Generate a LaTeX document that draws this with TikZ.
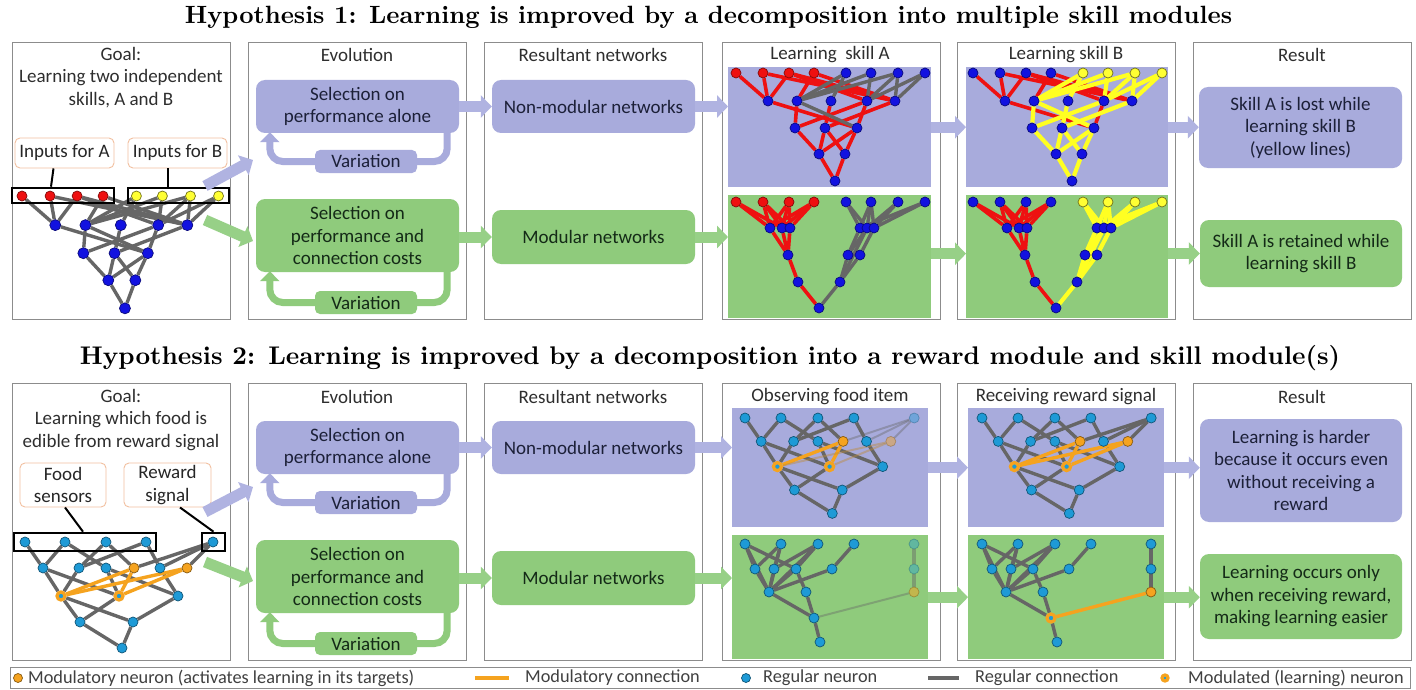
\documentclass[tikz,border=0pt]{standalone}
\usepackage{fontspec}
\setsansfont{Carlito}
\usepackage{graphicx}
\usetikzlibrary{arrows.meta,calc}
\pgfdeclarelayer{back}
\pgfdeclarelayer{edgel}
\pgfsetlayers{back,edgel,main}
\definecolor{purp}{HTML}{A8ABDC}
\definecolor{grn}{HTML}{8FCB7C}
\definecolor{purpA}{HTML}{B0B3E1}
\definecolor{grnA}{HTML}{97D087}
\definecolor{ptxt}{HTML}{1C2038}
\definecolor{gtxt}{HTML}{142A17}
\definecolor{ttxt}{HTML}{2E2E2E}
\definecolor{edgeg}{HTML}{666666}
\definecolor{nred}{HTML}{EE1010}
\definecolor{nblue}{HTML}{1212E0}
\definecolor{nyel}{HTML}{FFFF33}
\definecolor{ncyan}{HTML}{1E9AD6}
\definecolor{norg}{HTML}{F5A31F}
\definecolor{eyel}{HTML}{FFFF22}
\definecolor{ered}{HTML}{EE1111}
\definecolor{panelb}{HTML}{8C8C8C}
\definecolor{tanb}{HTML}{F2C0A0}
\newcommand\setfs[2]{\fontsize{#1}{#2}\selectfont}
% ---------- Hypothesis 1, non-modular network
\newcommand\NetOne[1]{%
\foreach \i/\x in {1/0,2/27,3/53,4/78}{\node[nA] (#1a\i) at (\x,0) {};}
\foreach \i/\x in {5/110,6/135,7/162,8/189}{\node[nB] (#1a\i) at (\x,0) {};}
\foreach \i/\x in {1/32,2/61,3/95,4/131,5/159}{\node[nH] (#1h\i) at (\x,28) {};}
\foreach \i/\x in {1/59,2/89,3/121}{\node[nH] (#1g\i) at (\x,55) {};}
\foreach \i/\x in {1/83,2/109}{\node[nH] (#1f\i) at (\x,81) {};}
\node[nH] (#1o) at (99,108) {};
\begin{pgfonlayer}{edgel}
\foreach \u/\v in {a1/h1,a2/h1,a2/h5,a3/h1,a3/h4,a3/h5,a4/h2,a4/h5,h1/g3,h4/g3}{\draw[eT] (#1\u) -- (#1\v);}
\foreach \u/\v in {h2/g1,h3/g2,h4/g1,h5/g2,g1/f1,g2/f1,g2/f2,g3/f1,g3/f2,f1/o,f2/o}{\draw[eY] (#1\u) -- (#1\v);}
\foreach \u/\v in {a5/h2,a6/h2,a6/h4,a7/h4,a7/h5,a8/h5,a5/h3,a7/h2,a8/h4,h2/g3}{\draw[eG] (#1\u) -- (#1\v);}
\end{pgfonlayer}}
% ---------- Hypothesis 1, modular network
\newcommand\NetMod[1]{%
\foreach \i/\x in {1/0,2/27,3/53,4/78}{\node[nA] (#1a\i) at (\x,0) {};}
\foreach \i/\x in {5/110,6/135,7/162,8/189}{\node[nB] (#1a\i) at (\x,0) {};}
\foreach \i/\x in {1/34,2/46,3/54}{\node[nH] (#1m\i) at (\x,26) {};}
\foreach \i/\x in {1/124,2/131,3/138}{\node[nH] (#1n\i) at (\x,26) {};}
\node[nH] (#1l3) at (52,53) {};
\node[nH] (#1l4) at (62,80) {};
\node[nH] (#1r3a) at (112,53) {};
\node[nH] (#1r3b) at (124,53) {};
\node[nH] (#1r4) at (104,80) {};
\node[nH] (#1o) at (83,106) {};
\begin{pgfonlayer}{edgel}
\foreach \u/\v in {a1/m1,a1/m2,a2/m1,a2/m2,a2/m3,a3/m1,a3/m2,a3/m3,a4/m1,a4/m2,a4/m3,m1/l3,m2/l3,m3/l3,l3/l4,l4/o}{\draw[eT] (#1\u) -- (#1\v);}
\foreach \u/\v in {a5/n1,a5/n2,a6/n1,a6/n2,a6/n3,a7/n2,a7/n3,a8/n1,a8/n3,n1/r3a,n2/r3a,n3/r3b,n2/r4,r3a/r4,r3b/r4,r4/o}{\draw[eG] (#1\u) -- (#1\v);}
\end{pgfonlayer}}
% ---------- Hypothesis 2, non-modular network
\newcommand\NetTwo[1]{%
\foreach \i/\x in {1/0,2/40,3/81,4/121}{\node[nS] (#1s\i) at (\x,0) {};}
\node[nRw] (#1s5) at (188,0) {};
\foreach \i/\x in {1/18,2/54,3/81,5/135}{\node[nS] (#1h\i) at (\x,26) {};}
\node[nOr] (#1h4) at (109,26) {};
\node[nO2] (#1h6) at (162,26) {};
\node[nMod] (#1m1) at (36,54) {};
\node[nMod] (#1m2) at (94,54) {};
\node[nS] (#1m3) at (153,54) {};
\node[nS] (#1f1) at (55,80) {};
\node[nS] (#1f2) at (108,80) {};
\node[nS] (#1o) at (97,106) {};
\begin{pgfonlayer}{edgel}
\foreach \u/\v in {s1/h1,s2/h1,s2/h3,s3/h2,s3/h4,s4/h2,s4/h5,h1/m1,h1/m2,h2/m1,h3/m2,h3/m3,h5/m3,m1/f1,m1/f2,m2/f1,m3/f2,f1/o,f2/o}{\draw[eN] (#1\u) -- (#1\v);}
\foreach \u/\v in {s5/h4,s5/h6,s5/h5}{\draw[eRw] (#1\u) -- (#1\v);}
\foreach \u/\v in {h4/m1,h4/m2}{\draw[eO1] (#1\u) -- (#1\v);}
\foreach \u/\v in {h6/m1,h6/m2}{\draw[eO2] (#1\u) -- (#1\v);}
\end{pgfonlayer}}
% ---------- Hypothesis 2, modular network
\newcommand\NetTwoMod[1]{%
\foreach \i/\x in {1/0,2/36,3/73,4/109}{\node[nS] (#1s\i) at (\x,0) {};}
\node[nRw] (#1s5) at (169,0) {};
\foreach \i/\x in {1/10,2/29,3/51,4/87}{\node[nS] (#1h\i) at (\x,25) {};}
\node[nRw] (#1r2) at (169,25) {};
\node[nS] (#1m1) at (24,48) {};
\node[nS] (#1m2) at (61,48) {};
\node[nO2] (#1r3) at (169,48) {};
\node[nP] (#1p) at (69,74) {};
\node[nS] (#1o) at (75,98) {};
\begin{pgfonlayer}{edgel}
\foreach \u/\v in {s1/h1,s1/h3,s1/m1,s2/h1,s2/h2,s2/m1,s3/h2,s3/h3,s3/m1,s4/h4,h1/m1,h2/m1,h3/m1,h3/m2,h4/m1,m1/p,m2/p,p/o}{\draw[eN] (#1\u) -- (#1\v);}
\foreach \u/\v in {s5/r2,r2/r3}{\draw[eRw] (#1\u) -- (#1\v);}
\draw[eRP] (#1r3) -- (#1p);
\end{pgfonlayer}}
\begin{document}
\begin{tikzpicture}[x=1pt,y=-1pt,
  font=\sffamily\setfs{19}{22.5},
  panel/.style={draw=panelb, line width=1.3pt, fill=white, minimum width=218pt, minimum height=277pt, inner sep=0pt, anchor=north west},
  pfill/.style={fill=purp, inner sep=0pt, anchor=north west},
  gfill/.style={fill=grn, inner sep=0pt, anchor=north west},
  ptitle/.style={text=ttxt, align=center, font=\sffamily\setfs{19}{22.5}},
  pbox/.style={rounded corners=9pt, fill=purp, text=ptxt, align=center, inner sep=0pt, minimum width=203pt},
  gbox/.style={rounded corners=9pt, fill=grn, text=gtxt, align=center, inner sep=0pt, minimum width=203pt},
  vbox/.style={rounded corners=5pt, minimum width=102pt, minimum height=23pt},
  lbl/.style={draw=tanb, line width=0.9pt, rounded corners=5pt, fill=white, text=black!85, align=center, inner sep=0pt},
  inrect/.style={draw=black, line width=2.6pt, inner sep=0pt},
  conn/.style={draw=black, line width=2pt},
  harrP/.style={line width=11pt, draw=purpA, -{Triangle[width=22pt,length=11pt]}},
  harrG/.style={line width=11pt, draw=grnA, -{Triangle[width=22pt,length=11pt]}},
  loopP/.style={line width=7pt, draw=purp, rounded corners=13pt},
  loopG/.style={line width=7pt, draw=grn, rounded corners=13pt},
  loopTip/.style={-{Triangle[width=19pt,length=10pt]}},
  nd/.style={circle, inner sep=0pt, minimum size=10pt, line width=0.7pt},
  nR/.style={nd, fill=nred, draw=nred!55!black},
  nBl/.style={nd, fill=nblue, draw=nblue!55!black},
  nY/.style={nd, fill=nyel, draw=nyel!45!black},
  nC/.style={nd, fill=ncyan, draw=ncyan!55!black},
  nO/.style={nd, fill=norg, draw=norg!55!black},
  nMod/.style={circle, inner sep=0pt, minimum size=8pt, fill=ncyan, draw=norg, line width=3.2pt},
  eGray/.style={draw=edgeg, line width=3.4pt},
  eRed/.style={draw=ered, line width=3.6pt},
  eYel/.style={draw=eyel, line width=4.2pt},
  eOrg/.style={draw=norg, line width=3.4pt},
  eFade/.style={draw=edgeg, line width=2pt, opacity=0.4},
  eFadeO/.style={draw=norg!60!edgeg, line width=2pt, opacity=0.45},
  legt/.style={anchor=west, inner sep=0pt, text=black!75, font=\sffamily\setfs{18.3}{20}}
]
\useasboundingbox (0,0) rectangle (1416,690);
% ================= background layer: panels and coloured areas
\begin{pgfonlayer}{back}
\fill[white] (0,0) rectangle (1416,690);
\foreach \n/\x in {1/12,2/248,3/484,4/722,5/957,6/1193}{
  \node[panel] (T\n) at (\x,42) {};
  \node[panel] (B\n) at (\x,383) {};
}
\node[pfill, minimum width=203pt, minimum height=120pt] (R4P) at (728,67) {};
\node[gfill, minimum width=203pt, minimum height=123pt] (R4G) at (728,195) {};
\node[pfill, minimum width=202pt, minimum height=120pt] (R5P) at (966,67) {};
\node[gfill, minimum width=202pt, minimum height=123pt] (R5G) at (966,195) {};
\node[pfill, minimum width=196pt, minimum height=119pt] (S4P) at (732,408) {};
\node[gfill, minimum width=196pt, minimum height=124pt] (S4G) at (732,535) {};
\node[pfill, minimum width=196pt, minimum height=119pt] (S5P) at (968,408) {};
\node[gfill, minimum width=196pt, minimum height=124pt] (S5G) at (968,535) {};
\end{pgfonlayer}
% ================= titles
\node[font=\rmfamily\bfseries] (H1) at (708.5,17) {\resizebox{1047pt}{!}{Hypothesis 1: Learning is improved by a decomposition into multiple skill modules}};
\node[font=\rmfamily\bfseries] (H2) at (710,358) {\resizebox{1260pt}{!}{Hypothesis 2: Learning is improved by a decomposition into a reward module and skill module(s)}};
% ================= panel titles
\node[ptitle] (g1) at (121,77.5) {Goal:\\Learning two independent\\skills, A and B};
\node[ptitle] (t2) at (357,55) {Evolution};
\node[ptitle] (t3) at (593,55) {Resultant networks};
\node[ptitle] (t4) at (830,55) {Learning\ \ skill A};
\node[ptitle] (t5) at (1066,55) {Learning skill B};
\node[ptitle] (t6) at (1302,55) {Result};
\node[ptitle] (g2) at (121,420) {Goal:\\Learning which food is\\edible from reward signal};
\node[ptitle] (u2) at (357,397) {Evolution};
\node[ptitle] (u3) at (593,397) {Resultant networks};
\node[ptitle] (u4) at (830,397) {Observing food item};
\node[ptitle] (u5) at (1066,397) {Receiving reward signal};
\node[ptitle] (u6) at (1302,397) {Result};
% ================= Hypothesis 1 : goal panel
\node[lbl, minimum width=99pt, minimum height=30pt] (inA) at (64.5,153) {Inputs for A};
\node[lbl, minimum width=99pt, minimum height=30pt] (inB) at (177.5,153) {Inputs for B};
\begin{scope}[shift={(22,196)}, scale=1.04, nA/.style={nR}, nB/.style={nY}, nH/.style={nBl,minimum size=11pt},
  eT/.style={eGray}, eY/.style={eGray}, eG/.style={eGray}]
\NetOne{pa}
\end{scope}
\node[inrect, minimum width=102pt, minimum height=15pt] (rA) at (63,195.5) {};
\node[inrect, minimum width=101pt, minimum height=15pt] (rB) at (178.5,195.5) {};
\draw[conn] ($(inA.south)+(-11,0)$) -- ($(rA.north)+(-12,0)$);
\draw[conn] ($(inB.south)+(-10,0)$) -- ($(rB.north)+(-11,0)$);
% ================= Hypothesis 1 : evolution and results
\node[pbox, minimum height=53pt] (sel1) at (357.5,106.5) {Selection on\\performance alone};
\node[pbox, vbox] (var1) at (366,161.5) {Variation};
\node[gbox, minimum height=73pt] (sel2) at (357.5,235.5) {Selection on\\performance and\\connection costs};
\node[gbox, vbox] (var2) at (366,302.5) {Variation};
\draw[loopP] ($(sel1.south east)+(-12,-2)$) |- (var1.east);
\draw[loopP, loopTip] (var1.west) -| ($(sel1.south west)+(14,-1)$);
\draw[loopG] ($(sel2.south east)+(-12,-2)$) |- (var2.east);
\draw[loopG, loopTip] (var2.west) -| ($(sel2.south west)+(14,-1)$);
\node[pbox, minimum height=53pt] (res1) at (593.5,106.5) {Non-modular networks};
\node[gbox, minimum height=54pt] (res2) at (593.5,237) {Modular networks};
\node[pbox, minimum height=81pt] (out1) at (1300.5,127.5) {Skill A is lost while\\learning skill B\\(yellow lines)};
\node[gbox, minimum height=67pt, minimum width=202pt] (out2) at (1301,253.5) {Skill A is retained while\\learning skill B};
% networks in panels 4 and 5
\begin{scope}[shift={(736,73)}, nA/.style={nR}, nB/.style={nBl}, nH/.style={nBl},
  eT/.style={eRed}, eY/.style={eRed}, eG/.style={eGray}]
\NetOne{pb}
\end{scope}
\begin{scope}[shift={(973,73)}, nA/.style={nBl}, nB/.style={nY}, nH/.style={nBl},
  eT/.style={eRed}, eY/.style={eYel}, eG/.style={eYel}]
\NetOne{pc}
\end{scope}
\begin{scope}[shift={(736,202)}, nA/.style={nR}, nB/.style={nBl}, nH/.style={nBl},
  eT/.style={eRed}, eG/.style={eGray}]
\NetMod{pd}
\end{scope}
\begin{scope}[shift={(973,202)}, nA/.style={nBl}, nB/.style={nY}, nH/.style={nBl},
  eT/.style={eRed}, eG/.style={eYel}]
\NetMod{pe}
\end{scope}
% arrows
\coordinate (d1s) at (205,186);
\coordinate (d1e) at (253,160);
\coordinate (d2s) at (205,220);
\coordinate (d2e) at (253,241);
\draw[harrP] (d1s) -- (d1e);
\draw[harrG] (d2s) -- (d2e);
\draw[harrP] (sel1.east) -- (res1.west);
\draw[harrG] (sel2.east |- res2.west) -- (res2.west);
\draw[harrP] (res1.east) -- (res1.east -| R4P.west);
\draw[harrG] (res2.east) -- (res2.east -| R4G.west);
\draw[harrP] (R4P.east) -- (R5P.west);
\draw[harrG] ($(R4G.east)+(0,-3)$) -- ($(R5G.west)+(0,-3)$);
\draw[harrP] (R5P.east) -- (R5P.east -| out1.west);
\draw[harrG] (out2.west -| R5G.east) -- (out2.west);
% ================= Hypothesis 2 : goal panel
\node[lbl, minimum width=86pt, minimum height=44pt] (food) at (63,485) {Food\\sensors};
\node[lbl, minimum width=87pt, minimum height=44pt] (rew) at (167.5,485) {Reward\\signal};
\begin{scope}[shift={(25,542)}, nS/.style={nC}, nRw/.style={nC}, nOr/.style={nO}, nO2/.style={nO},
  eN/.style={eGray}, eRw/.style={eGray}, eO1/.style={eOrg}, eO2/.style={eOrg}]
\NetTwo{qa}
\end{scope}
\node[inrect, minimum width=142pt, minimum height=18pt] (rF) at (85,542) {};
\node[inrect, minimum width=23pt, minimum height=18pt] (rR) at (213.5,542) {};
\draw[conn] ($(food.south)+(2,0)$) -- ($(rF.north)+(-2,0)$);
\draw[conn] ($(rew.south)+(12.5,0)$) -- (rR.north);
% ================= Hypothesis 2 : evolution and results
\node[pbox, minimum height=53pt] (sel3) at (357.5,447.5) {Selection on\\performance alone};
\node[pbox, vbox] (var3) at (366,502.5) {Variation};
\node[gbox, minimum height=73pt] (sel4) at (357.5,576.5) {Selection on\\performance and\\connection costs};
\node[gbox, vbox] (var4) at (366,643.5) {Variation};
\draw[loopP] ($(sel3.south east)+(-12,-2)$) |- (var3.east);
\draw[loopP, loopTip] (var3.west) -| ($(sel3.south west)+(14,-1)$);
\draw[loopG] ($(sel4.south east)+(-12,-2)$) |- (var4.east);
\draw[loopG, loopTip] (var4.west) -| ($(sel4.south west)+(14,-1)$);
\node[pbox, minimum height=53pt] (res3) at (593.5,447.5) {Non-modular networks};
\node[gbox, minimum height=54pt] (res4) at (593.5,578) {Modular networks};
\node[pbox, minimum height=103pt, minimum width=202pt] (out3) at (1301,470.5) {Learning is harder\\because it occurs even\\without receiving a\\reward};
\node[gbox, minimum height=85pt, minimum width=202pt] (out4) at (1301,596.5) {Learning occurs only\\when receiving reward,\\making learning easier};
\begin{scope}[shift={(745,418)}, scale=0.9, nS/.style={nC}, nRw/.style={nC,opacity=0.4}, nOr/.style={nO}, nO2/.style={nO,opacity=0.45},
  eN/.style={eGray}, eRw/.style={eFade}, eO1/.style={eOrg}, eO2/.style={eFadeO}]
\NetTwo{qb}
\end{scope}
\begin{scope}[shift={(982,418)}, scale=0.9, nS/.style={nC}, nRw/.style={nC}, nOr/.style={nO}, nO2/.style={nO},
  eN/.style={eGray}, eRw/.style={eGray}, eO1/.style={eOrg}, eO2/.style={eOrg}]
\NetTwo{qc}
\end{scope}
\begin{scope}[shift={(745,544)}, nS/.style={nC}, nRw/.style={nC,opacity=0.4}, nO2/.style={nO,opacity=0.5}, nP/.style={nC},
  eN/.style={eGray}, eRw/.style={eGray,opacity=0.45}, eRP/.style={eFade}]
\NetTwoMod{qd}
\end{scope}
\begin{scope}[shift={(982,544)}, nS/.style={nC}, nRw/.style={nC}, nO2/.style={nO}, nP/.style={nMod},
  eN/.style={eGray}, eRw/.style={eGray}, eRP/.style={eOrg}]
\NetTwoMod{qe}
\end{scope}
% arrows
\coordinate (e1s) at (205,512);
\coordinate (e1e) at (253,487);
\coordinate (e2s) at (205,562);
\coordinate (e2e) at (253,581);
\draw[harrP] (e1s) -- (e1e);
\draw[harrG] (e2s) -- (e2e);
\draw[harrP] (sel3.east) -- (res3.west);
\draw[harrG] (sel4.east |- res4.west) -- (res4.west);
\draw[harrP] (res3.east) -- (res3.east -| S4P.west);
\draw[harrG] (res4.east) -- (res4.east -| S4G.west);
\draw[harrP] (S4P.east) -- (S5P.west);
\draw[harrG] (S4G.east) -- (S5G.west);
\draw[harrP] (S5P.east) -- (S5P.east -| out3.west);
\draw[harrG] (S5G.east) -- (S5G.east -| out4.west);
% ================= legend
\node[draw=panelb, line width=1pt, fill=white, minimum width=1400pt, minimum height=21pt, inner sep=0pt, anchor=north west] (leg) at (10,667) {};
\node[nO, minimum size=9pt] (lg1) at (18,678) {};
\node[legt] (lt1) at (28,678) {Modulatory neuron (activates learning in its targets)};
\coordinate (l2a) at (475,678);
\coordinate (l2b) at (509,678);
\draw[draw=norg, line width=3.5pt] (l2a) -- (l2b);
\node[legt] (lt2) at (525,678) {Modulatory connection};
\node[nC, minimum size=9pt] (lg3) at (746,678) {};
\node[legt] (lt3) at (763,678) {Regular neuron};
\coordinate (l4a) at (928,678);
\coordinate (l4b) at (959,678);
\draw[draw=edgeg, line width=3.5pt] (l4a) -- (l4b);
\node[legt] (lt4) at (975,678) {Regular connection};
\node[nMod, minimum size=6pt] (lg5) at (1165,678) {};
\node[legt] (lt5) at (1188,678) {Modulated (learning) neuron};
\end{tikzpicture}
\end{document}
